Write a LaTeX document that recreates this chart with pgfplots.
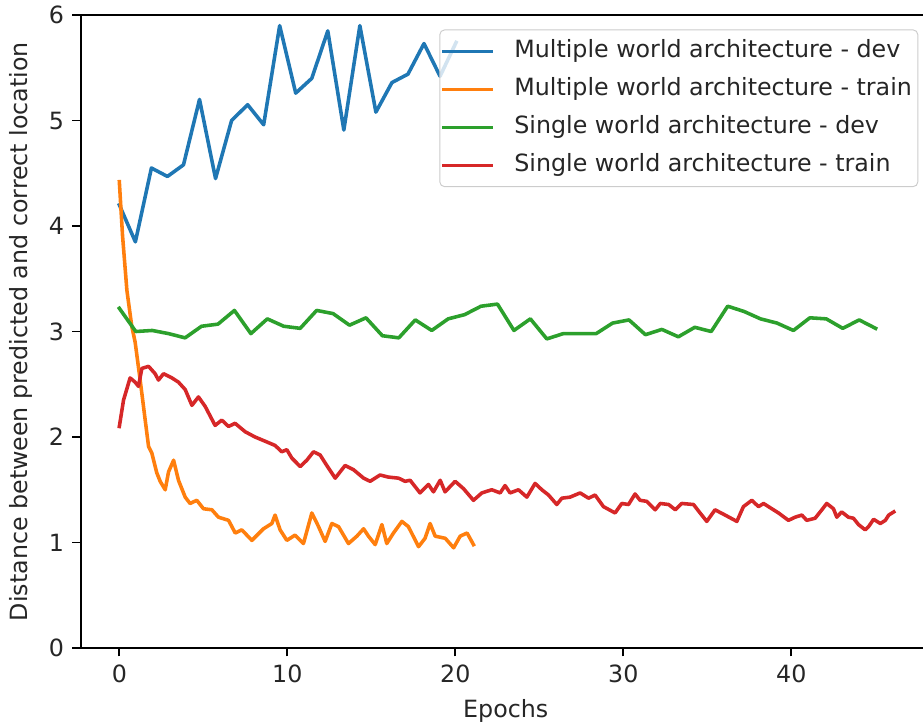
\documentclass[border=0pt]{standalone}
\usepackage{fontspec}
\setmainfont{DejaVu Sans}
\usepackage{pgfplots}
\pgfplotsset{compat=1.18}
\definecolor{tabblue}{HTML}{1F77B4}
\definecolor{taborange}{HTML}{FF7F0E}
\definecolor{tabgreen}{HTML}{2CA02C}
\definecolor{tabred}{HTML}{D62728}
\begin{document}
\begin{tikzpicture}
\begin{axis}[
  at={(0,0)}, anchor=south west,
  scale only axis, width=357.9pt, height=266.5pt,
  xmin=-2.3, xmax=48.3, ymin=0, ymax=6,
  xtick={0,10,20,30,40}, ytick={0,1,2,3,4,5,6},
  tick align=outside, major tick length=3.5pt, tick pos=left,
  every tick/.style={black, line width=0.8pt},
  axis line style={line width=0.8pt},
  /pgf/number format/assume math mode=true,
  ticklabel style={font=\fontsize{10}{12}\selectfont, text=black!85},
  label style={font=\fontsize{10}{12}\selectfont, text=black!85},
  xlabel={Epochs},
  ylabel={Distance between predicted and correct location},
  legend cell align=left,
  legend style={at={(0.9854,0.9773)}, anchor=north east, draw=black!20,
    rounded corners=2pt, fill=white, fill opacity=0.8, text opacity=1,
    font=\fontsize{10}{12}\selectfont, text=black!85,
    inner xsep=1pt, inner ysep=1pt,
    nodes={inner ysep=3pt, inner xsep=1.5pt, text height=7.5pt, text depth=2.5pt},
    /tikz/every odd column/.append style={column sep=7.4pt}},
  legend image code/.code={\draw[#1, line cap=rect] (0.75pt,0pt) -- (20.75pt,0pt);},
  every axis plot/.append style={line width=1.5pt, line join=round, line cap=rect},
]
\addplot[tabblue] coordinates {
(0,4.20) (0.955,3.85) (1.909,4.55) (2.864,4.47) (3.818,4.58) (4.773,5.20)
(5.727,4.45) (6.682,5.00) (7.636,5.15) (8.591,4.96) (9.545,5.90) (10.500,5.26)
(11.455,5.40) (12.409,5.85) (13.364,4.91) (14.318,5.90) (15.273,5.08) (16.227,5.36)
(17.182,5.44) (18.136,5.73) (19.091,5.42) (20.045,5.74)
};
\addlegendentry{Multiple world architecture - dev}
\addplot[taborange] coordinates {
(0,4.42) (0.19,3.91) (0.45,3.39) (0.74,3.05) (0.94,2.90) (1.24,2.54)
(1.54,2.16) (1.74,1.91) (1.93,1.85) (2.23,1.66) (2.43,1.58) (2.73,1.50)
(2.93,1.67) (3.23,1.78) (3.52,1.59) (3.92,1.43) (4.21,1.37) (4.61,1.40)
(5.01,1.32) (5.51,1.31) (5.90,1.24) (6.5,1.21) (6.9,1.09) (7.29,1.12)
(7.89,1.02) (8.58,1.13) (9.08,1.18) (9.27,1.26) (9.57,1.12) (9.97,1.02)
(10.46,1.07) (10.96,0.99) (11.46,1.28) (11.86,1.15) (12.25,1.01) (12.65,1.18)
(13.05,1.15) (13.64,0.99) (14.14,1.06) (14.54,1.13) (14.83,1.06) (15.23,0.98)
(15.63,1.17) (15.92,0.99) (16.32,1.09) (16.82,1.20) (17.21,1.15) (17.81,0.96)
(18.2,1.04) (18.5,1.18) (18.8,1.06) (19.4,1.04) (19.9,0.95) (20.29,1.06)
(20.7,1.09) (21.08,0.98)
};
\addlegendentry{Multiple world architecture - train}
\addplot[tabgreen] coordinates {
(0,3.22) (0.979,3.00) (1.957,3.01) (2.936,2.98) (3.915,2.94) (4.894,3.05)
(5.872,3.07) (6.851,3.20) (7.830,2.98) (8.809,3.12) (9.787,3.05) (10.766,3.03)
(11.745,3.20) (12.723,3.17) (13.702,3.06) (14.681,3.13) (15.660,2.96) (16.638,2.94)
(17.617,3.11) (18.596,3.01) (19.574,3.12) (20.553,3.16) (21.532,3.24) (22.511,3.26)
(23.489,3.01) (24.468,3.12) (25.447,2.93) (26.426,2.98) (27.404,2.98) (28.383,2.98)
(29.362,3.08) (30.340,3.11) (31.319,2.97) (32.298,3.02) (33.277,2.95) (34.255,3.04)
(35.234,3.00) (36.213,3.24) (37.191,3.19) (38.170,3.12) (39.149,3.08) (40.128,3.01)
(41.106,3.13) (42.085,3.12) (43.064,3.03) (44.043,3.11) (45.021,3.03)
};
\addlegendentry{Single world architecture - dev}
\addplot[tabred] coordinates {
(0,2.10) (0.25,2.35) (0.64,2.56) (0.94,2.52) (1.14,2.48) (1.34,2.65)
(1.74,2.67) (2.13,2.60) (2.33,2.54) (2.63,2.60) (3.13,2.56) (3.52,2.52)
(3.92,2.45) (4.32,2.30) (4.71,2.38) (5.11,2.29) (5.7,2.11) (6.1,2.16)
(6.5,2.10) (6.89,2.13) (7.49,2.05) (8.08,2.00) (8.68,1.96) (9.27,1.92)
(9.67,1.86) (9.97,1.88) (10.27,1.80) (10.77,1.72) (11.16,1.78) (11.56,1.86)
(11.95,1.83) (12.35,1.73) (12.85,1.61) (13.44,1.73) (13.94,1.69) (14.54,1.61)
(14.93,1.58) (15.52,1.64) (16.02,1.62) (16.62,1.61) (17.01,1.58) (17.31,1.59)
(17.9,1.47) (18.4,1.55) (18.7,1.48) (19.1,1.59) (19.39,1.48) (19.99,1.58)
(20.49,1.51) (21.08,1.40) (21.58,1.47) (22.17,1.50) (22.67,1.47) (22.96,1.54)
(23.26,1.47) (23.76,1.50) (24.26,1.43) (24.75,1.56) (25.15,1.50) (25.55,1.45)
(26.04,1.36) (26.34,1.42) (26.83,1.43) (27.43,1.47) (27.93,1.42) (28.32,1.45)
(28.82,1.34) (29.51,1.28) (29.91,1.37) (30.31,1.36) (30.7,1.46) (31.0,1.40)
(31.4,1.39) (31.9,1.31) (32.2,1.37) (32.7,1.36) (33.1,1.31) (33.48,1.37)
(34.18,1.36) (34.57,1.28) (34.97,1.20) (35.46,1.31) (36.06,1.26) (36.76,1.20)
(37.15,1.34) (37.65,1.40) (38.05,1.34) (38.35,1.37) (38.74,1.33) (39.24,1.28)
(39.83,1.21) (40.23,1.24) (40.63,1.26) (40.92,1.21) (41.42,1.23) (41.82,1.31)
(42.11,1.37) (42.51,1.32) (42.71,1.24) (43.0,1.29) (43.4,1.24) (43.7,1.23)
(44.0,1.17) (44.4,1.12) (44.6,1.15) (44.9,1.22) (45.3,1.18) (45.6,1.21)
(45.8,1.26) (46.1,1.29)
};
\addlegendentry{Single world architecture - train\hspace{3pt}}
\end{axis}
\pgfresetboundingbox
\useasboundingbox (-33.98pt,-31.16pt) rectangle (354.65pt,272.84pt);
\end{tikzpicture}
\end{document}
